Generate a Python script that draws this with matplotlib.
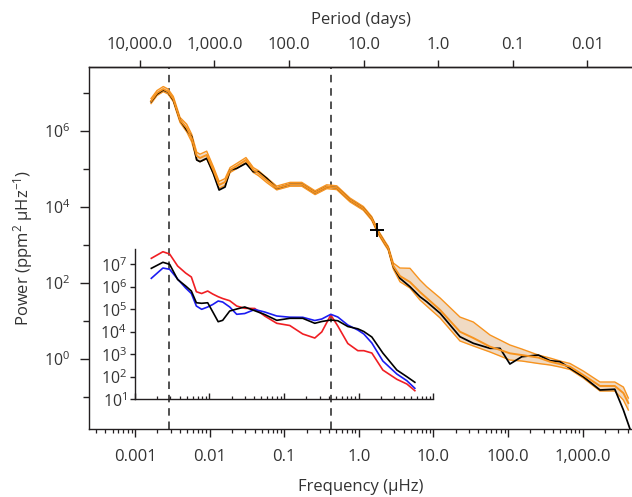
import matplotlib
matplotlib.use("Agg")
import matplotlib.pyplot as plt
from matplotlib.ticker import FixedLocator, FixedFormatter, NullLocator, LogLocator, NullFormatter

plt.rcParams['font.family'] = ['Open Sans', 'DejaVu Sans']
plt.rcParams['mathtext.fontset'] = 'custom'
plt.rcParams['mathtext.rm'] = 'Open Sans'
plt.rcParams['mathtext.it'] = 'Open Sans:italic'
plt.rcParams['mathtext.bf'] = 'Open Sans:bold'

TXT = '#333333'
AX = '#231f20'

# ---------------- data ----------------
obs_freq = [0.00164, 0.00197, 0.00239, 0.00277, 0.00326, 0.00401, 0.00493, 0.00575, 0.00671, 0.00743,
            0.00914, 0.0112, 0.0134, 0.0161, 0.0188, 0.0231, 0.0307, 0.0385, 0.0450, 0.0582,
            0.0793, 0.120, 0.172, 0.259, 0.371, 0.506, 0.762, 1.15, 1.49, 1.81,
            2.24, 2.48, 2.90, 3.56, 4.85, 6.60, 8.12, 12.3, 22.7, 34.3,
            57.4, 78.2, 106, 153, 255, 366, 498, 678, 1020, 1710,
            2700, 3520, 4460]
obs_power = [5.9e6, 9.4e6, 1.2e7, 1.06e7, 6.5e6, 1.95e6, 1.06e6, 7.1e5, 1.73e5, 1.56e5,
             1.91e5, 7.7e4, 2.8e4, 3.36e4, 9.4e4, 1.04e5, 1.41e5, 8.5e4, 8.5e4, 5.7e4,
             3.1e4, 3.96e4, 3.96e4, 2.38e4, 3.42e4, 3.22e4, 1.53e4, 9.2e3, 5.0e3, 2.2e3,
             1.11e3, 820, 269, 133, 80, 43.6, 32.2, 16, 3.86, 2.59,
             1.91, 1.91, 0.738, 1.15, 1.27, 0.902, 0.849, 0.569, 0.342, 0.153,
             0.16, 0.0455, 0.012]

model_freq = obs_freq[:-1] + [4100]
model_power = [6.15e6, 1.0e7, 1.27e7, 1.09e7, 6.95e6, 1.95e6, 1.2e6, 6.5e5, 2.2e5, 1.95e5,
               2.34e5, 9.4e4, 3.8e4, 4.55e4, 9.4e4, 1.2e5, 1.73e5, 9.4e4, 7.85e4, 5.1e4,
               3.16e4, 3.96e4, 3.96e4, 2.38e4, 3.42e4, 3.22e4, 1.53e4, 9.2e3, 5.0e3, 2.2e3,
               1.11e3, 820, 280, 153, 106, 58, 40.3, 19.5, 5.22, 3.57,
               2.11, 1.73, 1.41, 1.27, 1.09, 0.849, 0.738, 0.627, 0.379, 0.195,
               0.195, 0.127, 0.0695]
model_hi = [7.16e6, 1.16e7, 1.48e7, 1.27e7, 8.1e6, 2.27e6, 1.51e6, 8.2e5, 2.77e5, 2.45e5,
            2.95e5, 1.16e5, 4.7e4, 5.6e4, 1.09e5, 1.4e5, 2.0e5, 1.09e5, 9.1e4, 5.9e4,
            3.55e4, 4.45e4, 4.45e4, 2.67e4, 3.84e4, 3.61e4, 1.72e4, 1.03e4, 5.6e3, 2.47e3,
            1.25e3, 920, 336, 248, 244, 120, 80, 40.3, 12.7, 9.4,
            4.28, 3.16, 2.34, 1.83, 1.27, 1.06, 0.885, 0.762, 0.483, 0.248,
            0.248, 0.183, 0.094]
model_lo = [5.28e6, 8.6e6, 1.09e7, 9.4e6, 5.97e6, 1.68e6, 9.5e5, 5.2e5, 1.75e5, 1.55e5,
            1.86e5, 7.6e4, 3.1e4, 3.7e4, 8.1e4, 1.03e5, 1.49e5, 8.1e4, 6.7e4, 4.4e4,
            2.82e4, 3.53e4, 3.53e4, 2.12e4, 3.05e4, 2.87e4, 1.36e4, 8.2e3, 4.46e3, 1.96e3,
            990, 730, 233, 108, 73.8, 35.7, 24.8, 12, 2.98, 2.2,
            1.53, 1.2, 0.94, 0.885, 0.762, 0.695, 0.615, 0.53, 0.316, 0.144,
            0.144, 0.083, 0.0455]

marker_freq = [1.74]
marker_power = [2480]

dashed_freq = [0.00288, 0.43]   # ~11 yr and ~27 d

inset_freq = [0.001675, 0.002395, 0.002945, 0.003771, 0.004826, 0.005754, 0.006715, 0.007907, 0.009519, 0.01111,
              0.01316, 0.01512, 0.01877, 0.02330, 0.02982, 0.04061, 0.05528, 0.08011, 0.1196, 0.1786,
              0.2588, 0.3211, 0.4238, 0.5262, 0.7166, 0.9757, 1.174, 1.503, 2.110, 3.251,
              4.426, 5.662]
inset_red = [1.85e7, 3.63e7, 2.87e7, 8.4e6, 4.1e6, 2.73e6, 6.05e5, 5.04e5, 6.5e5, 4.79e5,
             3.63e5, 3.02e5, 2.41e5, 1.4e5, 1.11e5, 1.09e5, 5.03e4, 2.39e4, 1.91e4, 8.0e3,
             5.3e3, 9.9e3, 5.58e4, 1.81e4, 3.02e3, 1.45e3, 1.45e3, 1.14e3, 200, 77.4,
             47.9, 24.1]
inset_black = [6.64e6, 1.23e7, 1.0e7, 2.11e6, 1.09e6, 6.5e5, 1.96e5, 1.85e5, 1.96e5, 7.82e4,
               2.81e4, 3.24e4, 8.4e4, 1.03e5, 1.27e5, 8.67e4, 5.87e4, 3.24e4, 3.98e4, 3.98e4,
               2.39e4, 2.87e4, 3.35e4, 3.11e4, 1.72e4, 1.36e4, 1.03e4, 5.87e3, 1.14e3, 200,
               101, 57]
inset_blue = [2.39e6, 6.85e6, 6.0e6, 2.22e6, 8.85e5, 5.04e5, 1.4e5, 1.0e5, 1.27e5, 1.63e5,
              2.34e5, 2.11e5, 1.27e5, 6.0e4, 6.5e4, 9.8e4, 7.59e4, 5.04e4, 4.46e4, 4.41e4,
              3.18e4, 3.71e4, 6.0e4, 4.55e4, 2.0e4, 1.2e4, 7.98e3, 3.18e3, 504, 133,
              67.1, 30.8]

freq_ticks = [0.001, 0.01, 0.1, 1, 10, 100, 1000]
freq_labels = ['0.001', '0.01', '0.1', '1.0', '10.0', '100.0', '1,000.0']
period_ticks = [10000, 1000, 100, 10, 1, 0.1, 0.01]
period_labels = ['10,000.0', '1,000.0', '100.0', '10.0', '1.0', '0.1', '0.01']
power_ticks = [1e0, 1e2, 1e4, 1e6]
power_labels = [r'$\mathdefault{10^{0}}$', r'$\mathdefault{10^{2}}$', r'$\mathdefault{10^{4}}$', r'$\mathdefault{10^{6}}$']
power_minor = [1e-1, 1e1, 1e3, 1e5, 1e7]
inset_power_ticks = [1e1, 1e2, 1e3, 1e4, 1e5, 1e6, 1e7]
inset_power_labels = [r'$\mathdefault{10^{%d}}$' % k for k in range(1, 8)]

UHZ_DAY = 1e6 / 86400.0  # period(days) = UHZ_DAY / freq(uHz)

# ---------------- figure ----------------
W, H = 632, 497
fig = plt.figure(figsize=(W / 100, H / 100), dpi=100)
ax = fig.add_axes([89 / W, 1 - 429 / H, (632 - 89) / W, (429 - 66.7) / H])
ax.set_xscale('log')
ax.set_yscale('log')
ax.set_xlim(2.416e-4, 4592)
ax.set_ylim(0.01439, 4.92e7)

for s in ['left', 'bottom', 'top']:
    ax.spines[s].set_color(AX)
    ax.spines[s].set_linewidth(1.0)
ax.spines['right'].set_visible(False)

orange = '#f7931e'
ax.fill_between(model_freq, model_lo, model_hi, color='#f0dac3', lw=0, zorder=2)
ax.plot(model_freq, model_hi, color=orange, lw=1.0, zorder=3)
ax.plot(model_freq, model_lo, color=orange, lw=1.0, zorder=3)
ax.plot(obs_freq, obs_power, color='black', lw=1.25, zorder=4)
ax.plot(model_freq, model_power, color=orange, lw=1.4, zorder=5)
ax.plot(marker_freq, marker_power, marker='+', ms=10, mew=1.4, color='black', ls='none', zorder=6)

for fq in dashed_freq:
    ax.axvline(fq, color='#333333', lw=1.2, ls=(0, (4.5, 3.5)), zorder=1)

ax.xaxis.set_major_locator(FixedLocator(freq_ticks))
ax.xaxis.set_major_formatter(FixedFormatter(freq_labels))
ax.xaxis.set_minor_locator(LogLocator(base=10, subs=[2, 3, 4, 5, 6, 7, 8, 9], numticks=30))
ax.xaxis.set_minor_formatter(NullFormatter())
ax.yaxis.set_major_locator(FixedLocator(power_ticks))
ax.yaxis.set_major_formatter(FixedFormatter(power_labels))
ax.yaxis.set_minor_locator(FixedLocator(power_minor))
ax.yaxis.set_minor_formatter(NullFormatter())

ax.tick_params(axis='x', which='major', direction='out', length=6, width=1.0, color=AX,
               labelsize=12, labelcolor=TXT, pad=8.5, top=False)
ax.tick_params(axis='x', which='minor', direction='out', length=3, width=0.9, color=AX, top=False)
ax.tick_params(axis='y', which='major', direction='out', length=6.5, width=1.0, color=AX,
               labelsize=11.5, labelcolor=TXT, pad=7, right=False)
ax.tick_params(axis='y', which='minor', direction='out', length=4, width=1.0, color=AX, right=False)

ax.set_xlabel('Frequency (\u03bcHz)', fontsize=12, color=TXT, labelpad=10)
ax.set_ylabel('Power (ppm$^{2}$ \u03bcHz$^{-1}$)', fontsize=12, color=TXT, labelpad=6)

sec = ax.secondary_xaxis('top', functions=(lambda f: UHZ_DAY / f, lambda p: UHZ_DAY / p))
sec.xaxis.set_major_locator(FixedLocator(period_ticks))
sec.xaxis.set_major_formatter(FixedFormatter(period_labels))
sec.xaxis.set_minor_locator(NullLocator())
sec.tick_params(axis='x', direction='out', length=5, width=1.0, color=AX, labelsize=12,
                labelcolor=TXT, pad=5)
sec.spines['top'].set_color(AX)
sec.spines['top'].set_linewidth(1.0)
sec.set_xlabel('Period (days)', fontsize=12, color=TXT, labelpad=9)

# ---------------- inset ----------------
axi = fig.add_axes([134.6 / W, 1 - 399.3 / H, (433.3 - 134.6) / W, (399.3 - 249) / H])
axi.patch.set_alpha(0)
axi.set_xscale('log')
axi.set_yscale('log')
axi.set_xlim(0.001, 10)
axi.set_ylim(10, 4.8e7)
for s in ['right', 'top']:
    axi.spines[s].set_visible(False)
for s in ['left', 'bottom']:
    axi.spines[s].set_color(AX)
    axi.spines[s].set_linewidth(1.0)

axi.plot(inset_freq, inset_red, color='#f01e23', lw=1.2)
axi.plot(inset_freq, inset_blue, color='#1c1cf2', lw=1.2)
axi.plot(inset_freq, inset_black, color='black', lw=1.2)

axi.xaxis.set_major_locator(FixedLocator([0.001, 0.01, 0.1, 1, 10]))
axi.xaxis.set_major_formatter(NullFormatter())
axi.xaxis.set_minor_locator(LogLocator(base=10, subs=[2, 3, 4, 5, 6, 7, 8, 9], numticks=30))
axi.xaxis.set_minor_formatter(NullFormatter())
axi.yaxis.set_major_locator(FixedLocator(inset_power_ticks))
axi.yaxis.set_major_formatter(FixedFormatter(inset_power_labels))
axi.yaxis.set_minor_locator(NullLocator())
axi.tick_params(axis='x', which='major', direction='in', length=4.5, width=1.0, color=AX)
axi.tick_params(axis='x', which='minor', direction='in', length=2.5, width=0.9, color=AX)
axi.tick_params(axis='y', which='major', direction='out', length=3.5, width=1.0, color=AX,
                labelsize=11.5, labelcolor=TXT, pad=2)

fig.savefig('out.png', dpi=100)
